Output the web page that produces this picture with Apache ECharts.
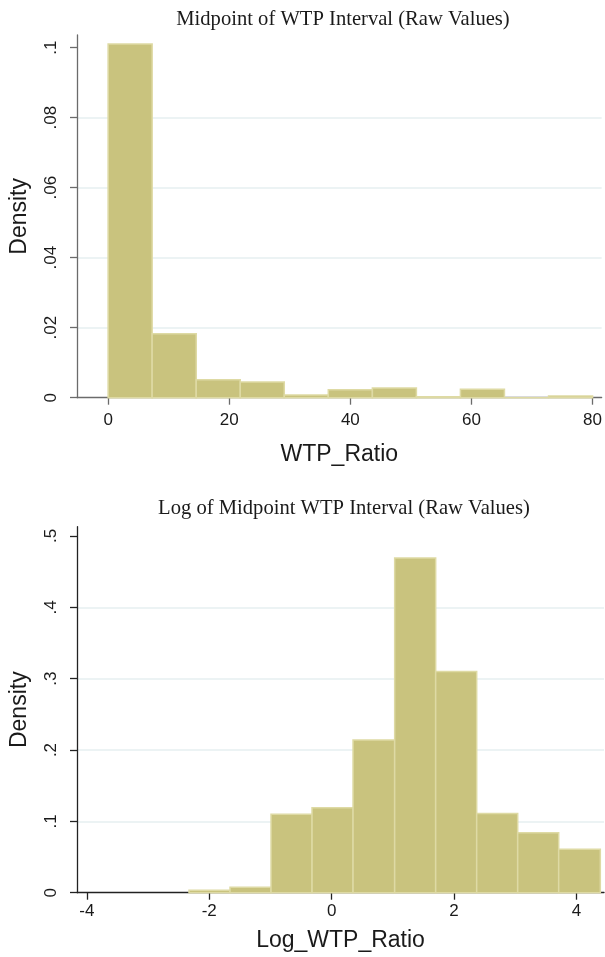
<!DOCTYPE html>
<html>
<head>
<meta charset="utf-8">
<script src="https://cdn.jsdelivr.net/npm/echarts@6/dist/echarts.min.js"></script>
<style>
html,body{margin:0;padding:0;background:#fff;}
#c{width:605px;height:957px;}
</style>
</head>
<body>
<div id="c"></div>
<script>
// ---- data: top histogram (WTP_Ratio) ----
var topBinEdges = [0, 7.27, 14.55, 21.82, 29.09, 36.36, 43.64, 50.91, 58.18, 65.45, 72.73, 80];
var topDensity  = [0.101, 0.0183, 0.0051, 0.0045, 0.0008, 0.0023, 0.0028, 0.0003, 0.0024, 0, 0.0005];
var topXTicks   = [0, 20, 40, 60, 80];
var topYTicks   = [0, 0.02, 0.04, 0.06, 0.08, 0.1];
var topYLabels  = ['0', '.02', '.04', '.06', '.08', '.1'];

// ---- data: bottom histogram (Log_WTP_Ratio) ----
var botBinEdges = [-2.33, -1.66, -0.99, -0.32, 0.35, 1.03, 1.70, 2.37, 3.04, 3.71, 4.39];
var botDensity  = [0.0033, 0.0075, 0.110, 0.119, 0.214, 0.469, 0.310, 0.111, 0.084, 0.061];
var botXTicks   = [-4, -2, 0, 2, 4];
var botYTicks   = [0, 0.1, 0.2, 0.3, 0.4, 0.5];
var botYLabels  = ['0', '.1', '.2', '.3', '.4', '.5'];

var titles = ['Midpoint of WTP Interval (Raw Values)', 'Log of Midpoint WTP Interval (Raw Values)'];
var xNames = ['WTP_Ratio', 'Log_WTP_Ratio'];
var yName = 'Density';

function binData(edges, dens) {
  var out = [];
  for (var i = 0; i < dens.length; i++) out.push([edges[i], edges[i + 1], dens[i]]);
  return out;
}
function labelFor(ticks, labels) {
  return function (v) {
    for (var i = 0; i < ticks.length; i++) if (Math.abs(ticks[i] - v) < 1e-9) return labels[i];
    return '';
  };
}
function renderBin(params, api) {
  var p0 = api.coord([api.value(0), 0]);
  var p1 = api.coord([api.value(1), api.value(2)]);
  return {
    type: 'rect',
    shape: { x: p0[0], y: p1[1], width: p1[0] - p0[0], height: p0[1] - p1[1] },
    style: { fill: '#c9c37e', stroke: '#dedaa4', lineWidth: 1.5 }
  };
}

var SANS = "'Liberation Sans', Arial, Helvetica, sans-serif";
var SERIF = "'Liberation Serif', 'Times New Roman', serif";

function xAxis(gi, min, max, ticks, color, fs, margin, gap) {
  return {
    type: 'value', gridIndex: gi, min: min, max: max,
    name: xNames[gi], nameLocation: 'middle', nameGap: gap,
    nameTextStyle: { fontFamily: SANS, fontSize: 23, color: '#1a1a1a' },
    axisLine: { show: true, onZero: false, lineStyle: { color: color, width: 1.3 } },
    axisTick: { show: true, length: 7, customValues: ticks, lineStyle: { color: color, width: 1.3 } },
    axisLabel: { customValues: ticks, fontFamily: SANS, fontSize: fs, color: '#1a1a1a', margin: margin,
                 formatter: function (v) { return String(v); } },
    splitLine: { show: false }
  };
}
function yAxis(gi, max, interval, ticks, labels, color, fs) {
  return {
    type: 'value', gridIndex: gi, min: 0, max: max, interval: interval,
    name: yName, nameLocation: 'middle', nameGap: 46, nameRotate: 90,
    nameTextStyle: { fontFamily: SANS, fontSize: 23, color: '#1a1a1a' },
    axisLine: { show: true, onZero: false, lineStyle: { color: color, width: 1.3 } },
    axisTick: { show: true, length: 7, customValues: ticks, lineStyle: { color: color, width: 1.3 } },
    axisLabel: { customValues: ticks, rotate: 90, fontFamily: SANS, fontSize: fs, color: '#1a1a1a', margin: 17,
                 formatter: labelFor(ticks, labels) },
    splitLine: { show: true, showMaxLine: false, showMinLine: false, lineStyle: { color: '#e6eff1', width: 1.5 } }
  };
}

var chart = echarts.init(document.getElementById('c'), null, { renderer: 'canvas' });
chart.setOption({
  backgroundColor: '#ffffff',
  animation: false,
  title: [
    { text: titles[0], left: 338, top: 4, textAlign: 'center',
      textStyle: { fontFamily: SERIF, fontWeight: 'normal', fontSize: 20.6, color: '#1a1a1a' } },
    { text: titles[1], left: 339, top: 493, textAlign: 'center',
      textStyle: { fontFamily: SERIF, fontWeight: 'normal', fontSize: 20.6, color: '#1a1a1a' } }
  ],
  grid: [
    { left: 77, top: 35, width: 526, height: 362.7, containLabel: false },
    { left: 77, top: 526.7, width: 527, height: 366, containLabel: false }
  ],
  xAxis: [
    xAxis(0, -5.14, 81.5, topXTicks, '#6b6b6b', 17, 14, 45),
    xAxis(1, -4.16, 4.45, botXTicks, '#222222', 17, 10, 36)
  ],
  yAxis: [
    yAxis(0, 0.1036, 0.02, topYTicks, topYLabels, '#6b6b6b', 17),
    yAxis(1, 0.513, 0.1, botYTicks, botYLabels, '#222222', 17)
  ],
  series: [
    { type: 'custom', xAxisIndex: 0, yAxisIndex: 0, renderItem: renderBin,
      encode: { x: [0, 1], y: 2 }, data: binData(topBinEdges, topDensity), z: 3 },
    { type: 'custom', xAxisIndex: 1, yAxisIndex: 1, renderItem: renderBin,
      encode: { x: [0, 1], y: 2 }, data: binData(botBinEdges, botDensity), z: 3 }
  ]
});
</script>
</body>
</html>
